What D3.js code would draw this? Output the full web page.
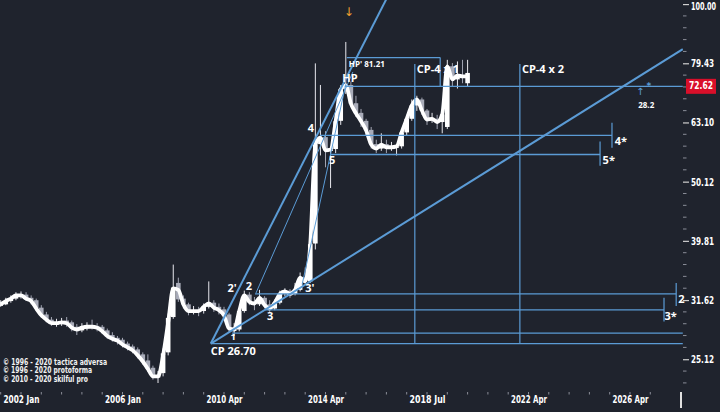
<!DOCTYPE html>
<html><head><meta charset="utf-8">
<script src="https://cdn.jsdelivr.net/npm/d3@7/dist/d3.min.js"></script>
<style>html,body{margin:0;padding:0;background:#1f232d;overflow:hidden}</style>
</head><body><svg id="c" width="720" height="412"></svg>
<script>
// ---- data (bar index 0 = 2002 Jan, bars evenly spaced) ----
const firstBar = -4;
const openP  = [31.0,31.1,31.5,31.8,32.2,32.3,31.9,31.6,30.7,29.9,29.3,28.8,28.9,29.2,29.0,28.5,28.1,28.4,28.6,28.6,28.5,28.1,27.6,27.3,27.1,26.7,26.4,26.1,25.6,25.0,24.3,23.4,23.8,25.8,29.6,33.8,31.8,31.1,30.2,30.4,30.3,30.8,31.3,30.8,30.5,29.9,28.1,28.2,30.3,32.3,31.4,31.1,31.9,31.1,30.6,31.3,32.4,32.8,32.4,32.9,34.6,34.0,39.4,58.0,59.6,56.5,56.9,63.5,71.8,73.0,68.0,65.5,63.5,61.3,58.0,57.0,58.0,57.3,57.3,57.5,60.7,64.0,67.4,69.0,66.1,63.8,64.0,63.2,62.0,78.5,74.6,75.8,73.5];
const highP  = [31.6,31.9,32.2,32.6,32.7,32.6,32.2,31.8,31.0,30.2,29.6,29.4,29.5,29.6,29.2,28.8,28.9,29.0,29.3,28.9,28.7,28.3,27.9,27.5,27.3,26.9,26.6,26.3,25.8,25.6,24.5,24.0,26.2,30.0,36.3,34.5,32.2,31.3,30.9,30.8,31.2,34.0,31.6,31.2,30.8,30.1,28.9,30.6,32.8,32.6,32.0,32.9,32.1,31.6,31.7,32.8,33.1,33.0,33.8,35.2,35.9,40.0,79.4,73.0,61.0,57.5,64.5,73.0,86.3,74.0,70.0,66.5,64.0,62.0,59.0,60.5,59.0,58.5,58.0,61.5,65.0,69.0,70.0,69.5,66.5,65.5,65.0,66.0,80.5,79.5,80.0,80.5,80.5];
const lowP   = [30.8,31.0,31.3,31.6,31.8,31.5,31.1,30.3,29.5,29.0,28.6,28.5,28.6,28.5,28.0,27.6,27.9,28.1,28.2,28.0,27.7,27.2,26.9,26.6,26.3,26.0,25.7,25.2,24.6,23.9,23.2,22.9,23.5,25.5,29.4,31.4,30.6,29.8,29.9,29.7,30.0,30.6,30.2,29.9,29.3,27.9,27.5,28.0,30.1,31.0,30.4,30.9,30.6,30.2,30.4,31.1,32.1,31.9,32.2,32.7,33.6,33.8,38.5,55.5,53.0,48.9,56.0,62.5,70.5,67.0,64.5,62.0,60.0,57.0,56.0,56.5,56.0,56.5,55.5,57.0,60.0,63.5,66.0,65.0,62.5,63.0,61.5,60.5,61.5,72.5,72.0,73.5,72.6];
const closeP = [31.1,31.5,31.8,32.2,32.2,31.8,31.5,30.6,29.8,29.3,28.9,28.9,29.0,28.9,28.4,28.2,28.4,28.5,28.5,28.4,28.0,27.5,27.2,27.0,26.6,26.3,26.0,25.5,24.9,24.2,23.5,23.6,25.7,29.5,33.2,31.7,31.1,30.3,30.3,30.3,30.8,31.2,30.7,30.4,29.8,28.3,28.2,30.3,32.2,31.4,31.2,31.9,31.0,30.6,31.3,32.4,32.7,32.4,32.9,34.5,34.0,39.3,57.9,59.5,56.6,56.8,63.4,71.8,72.9,67.9,65.4,63.4,61.2,57.9,57.0,57.9,57.3,57.3,57.5,60.7,64.0,67.4,69.0,66.1,63.8,64.0,63.2,65.1,78.5,74.6,75.8,75.5,76.5];
const lineP  = [31.1,31.5,31.8,32.2,32.2,31.8,31.5,30.6,29.8,29.3,28.9,28.9,29.0,28.9,28.4,28.2,28.4,28.5,28.5,28.4,28.0,27.5,27.2,27.0,26.6,26.3,26.0,25.5,24.9,24.2,23.5,23.5,25.5,29.0,33.1,32.9,31.1,30.3,30.3,30.3,30.8,31.2,30.7,30.4,29.8,28.3,28.2,30.3,32.2,31.4,31.2,31.9,31.0,30.6,31.3,32.4,32.7,32.4,32.9,34.5,34.0,39.3,57.9,59.5,56.6,56.8,63.4,71.8,72.9,67.9,65.4,63.4,61.2,57.9,57.0,57.9,57.3,57.3,57.5,60.7,64.0,67.4,69.0,66.1,63.8,64.0,63.2,65.1,78.5,74.6,75.8,75.5,75.5];

const xTickIdx    = [0,20,40,60,80,100,120];
const xTickLabels = ["2002 Jan","2006 Jan","2010 Apr","2014 Apr","2018 Jul","2022 Apr","2026 Apr"];
const yTickValues = [25.12,31.62,39.81,50.12,63.10,79.43,100.00];
const lastPrice = 72.62;

// annotation geometry in data space: [barIndex, price]
const trendLines = [
  {a:[37.4,26.70], b:[72.0,102.0], w:2},
  {a:[37.4,26.70], b:[130.4,83.9], w:2},
  {a:[46.3,32.5],  b:[65.4,76.8],  w:1},
  {a:[55.4,33.6],  b:[64.0,73.2],  w:1}
];
const levels = [
  {p:81.21, i0:64.2, i1:82.6},
  {p:72.62, i0:63.8, i1:130.4},
  {p:60.0,  i0:58.9, i1:116.45},
  {p:55.7,  i0:60.9, i1:114.1},
  {p:32.4,  i0:46.1, i1:129.1},
  {p:30.44, i0:48.1, i1:126.7},
  {p:27.8,  i0:41.6, i1:130.4},
  {p:26.70, i0:37.4, i1:130.4}
];
const verticals = [
  {i:82.6,  p0:72.62, p1:81.21},
  {i:116.45,p0:57.2,  p1:63.0},
  {i:114.1, p0:53.3,  p1:58.6},
  {i:129.1, p0:30.9,  p1:33.8},
  {i:126.7, p0:29.1,  p1:31.9},
  {i:77.6,  p0:26.70, p1:79.2},
  {i:98.3,  p0:26.70, p1:79.2}
];
const labels = [
  {t:"CP 26.70", i:37.4, p:25.80, a:"start", s:11},
  {t:"1",  i:41.8, p:27.35, a:"middle", s:9.5},
  {t:"2'", i:41.6, p:33.0, a:"middle", s:11},
  {t:"2",  i:44.9, p:33.3, a:"middle", s:11},
  {t:"3",  i:49.1, p:29.6, a:"middle", s:11},
  {t:"3'", i:56.9, p:33.0, a:"middle", s:11},
  {t:"4",  i:57.1, p:61.4, a:"middle", s:11},
  {t:"5",  i:61.3, p:54.4, a:"middle", s:11},
  {t:"HP", i:63.3, p:74.6, a:"start", s:11},
  {t:"HP' 81.21", i:64.6, p:78.8, a:"start", s:8},
  {t:"CP-4 x 1", i:78.0, p:77.3, a:"start", s:11},
  {t:"CP-4 x 2", i:98.7, p:77.3, a:"start", s:11},
  {t:"4*", i:117.0, p:58.4, a:"start", s:11},
  {t:"5*", i:114.6, p:54.2, a:"start", s:11},
  {t:"2",  i:129.5, p:31.65, a:"start", s:11},
  {t:"3*", i:126.8, p:29.6, a:"start", s:11},
  {t:"28.2", i:123.2, p:67.2, a:"middle", s:8}
];
const legendLines = ["© 1996 - 2020 tactica adversa","© 1996 - 2020 protoforma","© 2010 - 2020 skilful pro"];
const legendWidths = [104, 89, 85];

// ---- drawing ----
const W = 720, H = 412, plotR = 683, plotB = 388;
const svg = d3.select("#c");
svg.append("rect").attr("width",W).attr("height",H).attr("fill","#1f232d");

const x = d3.scaleLinear().domain([0,120]).range([21,630]);
const y = d3.scaleLog().domain([22.46,101.6]).range([plotB,0]);

svg.append("defs").append("clipPath").attr("id","clip")
  .append("rect").attr("x",0).attr("y",0).attr("width",plotR).attr("height",plotB);
const g = svg.append("g").attr("clip-path","url(#clip)");

const bars = closeP.map((c,k)=>({i:firstBar+k,o:openP[k],h:highP[k],l:lowP[k],c:c,m:lineP[k]}));
const BLUE = "#5b9bd5";

// candles
g.selectAll("line.wick").data(bars).join("line")
  .attr("x1",d=>x(d.i)).attr("x2",d=>x(d.i))
  .attr("y1",d=>y(d.h)).attr("y2",d=>y(d.l))
  .attr("stroke",d=>d.c>=d.o?"#e8e8ee":"#a2a5b3").attr("stroke-width",1);
g.selectAll("rect.body").data(bars).join("rect")
  .attr("x",d=>x(d.i)-2.3).attr("width",4.6)
  .attr("y",d=>y(Math.max(d.o,d.c)))
  .attr("height",d=>Math.max(1.5,Math.abs(y(d.o)-y(d.c))))
  .attr("fill",d=>d.c>=d.o?"#ffffff":"#a9acb9");

// smoothed price line
g.append("path").datum(bars)
  .attr("d",d3.line().x(d=>x(d.i)).y(d=>y(d.m)).curve(d3.curveMonotoneX))
  .attr("fill","none").attr("stroke","#ffffff").attr("stroke-width",3.8)
  .attr("stroke-linejoin","round");

// levels
g.selectAll("line.lvl").data(levels).join("line")
  .attr("x1",d=>x(d.i0)).attr("x2",d=>x(d.i1))
  .attr("y1",d=>y(d.p)).attr("y2",d=>y(d.p))
  .attr("stroke",BLUE).attr("stroke-width",1.3);
g.selectAll("line.vrt").data(verticals).join("line")
  .attr("x1",d=>x(d.i)).attr("x2",d=>x(d.i))
  .attr("y1",d=>y(d.p0)).attr("y2",d=>y(d.p1))
  .attr("stroke",BLUE).attr("stroke-width",1.2);
// trend lines
g.selectAll("line.tl").data(trendLines).join("line")
  .attr("x1",d=>x(d.a[0])).attr("y1",d=>y(d.a[1]))
  .attr("x2",d=>x(d.b[0])).attr("y2",d=>y(d.b[1]))
  .attr("stroke",BLUE).attr("stroke-width",d=>d.w);

// labels
const FONT = "'Open Sans','DejaVu Sans',sans-serif";
svg.selectAll("text.lab").data(labels).join("text")
  .attr("x",d=>x(d.i)).attr("y",d=>y(d.p))
  .attr("dominant-baseline","middle").attr("text-anchor",d=>d.a)
  .attr("font-family",FONT).attr("font-weight","bold")
  .attr("font-size",d=>d.s).attr("fill","#ffffff").text(d=>d.t);
// small markers
svg.append("text").attr("x",x(64.6)).attr("y",y(96.6)).attr("text-anchor","middle")
  .attr("dominant-baseline","middle").attr("font-size",12).attr("font-family","DejaVu Sans")
  .attr("fill","#f0a030").text("↓");
svg.append("text").attr("x",x(122.0)).attr("y",y(71.0)).attr("text-anchor","middle")
  .attr("dominant-baseline","middle").attr("font-size",10).attr("font-family","DejaVu Sans")
  .attr("fill",BLUE).text("↑");
svg.append("text").attr("x",x(123.7)).attr("y",y(72.6)).attr("text-anchor","middle")
  .attr("dominant-baseline","middle").attr("font-size",9).attr("font-family","DejaVu Sans")
  .attr("font-weight","bold").attr("fill",BLUE).text("*");

// legend
svg.selectAll("text.leg").data(legendLines).join("text")
  .attr("x",3).attr("y",(d,k)=>362+k*8.5).attr("dominant-baseline","middle")
  .attr("font-family","'DejaVu Sans Condensed','DejaVu Sans'").attr("font-weight","bold")
  .attr("font-size",9).attr("fill","#f2f2f2")
  .attr("textLength",(d,k)=>legendWidths[k]).attr("lengthAdjust","spacingAndGlyphs")
  .text(d=>d);

// y axis
const yAxis = d3.axisRight(y).tickValues(yTickValues).tickFormat(d3.format(".2f")).tickSize(6).tickPadding(2);
const ya = svg.append("g").attr("transform",`translate(${plotR},0)`).call(yAxis);
ya.select(".domain").remove();
ya.selectAll(".tick line").attr("stroke","#d0d0d0").attr("stroke-width",1.2);
ya.selectAll(".tick text").attr("fill","#ffffff").attr("font-family","'DejaVu Sans Condensed','DejaVu Sans'")
  .attr("font-weight","bold").attr("font-size",10.5)
  .attr("y",d=>d>=100?2:0)
  .attr("textLength",function(){return this.textContent.length>5?25:23;}).attr("lengthAdjust","spacingAndGlyphs");
const minorY = d3.range(68,101).map(k=>Math.pow(10,k/50)).filter(v=>v>22.5 && !yTickValues.some(t=>Math.abs(t-v)<0.05));
svg.append("g").selectAll("line").data(minorY).join("line")
  .attr("x1",plotR).attr("x2",plotR+3.5).attr("y1",d=>y(d)).attr("y2",d=>y(d))
  .attr("stroke","#8a8d98").attr("stroke-width",1);

// last price tag
svg.append("rect").attr("x",686).attr("y",y(lastPrice)-7.5).attr("width",30).attr("height",15).attr("fill","#d90f2a");
svg.append("text").attr("x",701).attr("y",y(lastPrice)).attr("text-anchor","middle").attr("dominant-baseline","middle")
  .attr("font-family","'DejaVu Sans Condensed','DejaVu Sans'").attr("font-weight","bold").attr("font-size",10.5)
  .attr("fill","#ffffff").attr("textLength",24).attr("lengthAdjust","spacingAndGlyphs").text(d3.format(".2f")(lastPrice));

// x axis
const xAxis = d3.axisBottom(x).tickValues(xTickIdx).tickFormat((d,k)=>xTickLabels[k]).tickSize(0).tickPadding(0);
const xa = svg.append("g").attr("transform","translate(0,398)").call(xAxis);
xa.select(".domain").remove();
xa.selectAll(".tick text").attr("fill","#ffffff").attr("font-family","'DejaVu Sans Condensed','DejaVu Sans'")
  .attr("font-weight","bold").attr("font-size",10.5).attr("dy","0.5em")
  .attr("textLength",36).attr("lengthAdjust","spacingAndGlyphs");
const minorX = d3.range(-4,125,4);
svg.append("g").selectAll("line").data(minorX).join("line")
  .attr("x1",d=>x(d)).attr("x2",d=>x(d)).attr("y1",392).attr("y2",394.5)
  .attr("stroke","#8a8d98").attr("stroke-width",1);
svg.append("line").attr("x1",681).attr("x2",681).attr("y1",392).attr("y2",408)
  .attr("stroke","#e0e0e0").attr("stroke-width",2);
</script></body></html>
